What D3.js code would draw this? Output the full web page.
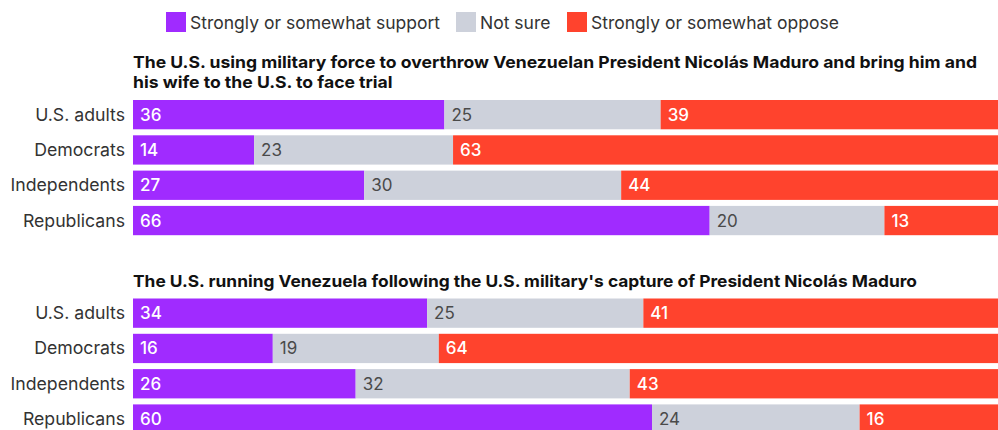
<!DOCTYPE html>
<html>
<head>
<meta charset="utf-8">
<script src="https://cdn.jsdelivr.net/npm/d3@7"></script>
<style>
  html, body { margin: 0; padding: 0; background: #fff; }
  svg { display: block; }
</style>
</head>
<body>
<svg id="chart" width="998" height="430"></svg>
<script>
// ---- data ----
const groups = ["U.S. adults", "Democrats", "Independents", "Republicans"];
const seriesNames = ["Strongly or somewhat support", "Not sure", "Strongly or somewhat oppose"];
const q1Title = ["The U.S. using military force to overthrow Venezuelan President Nicolás Maduro and bring him and",
                 "his wife to the U.S. to face trial"];
const q1Support = [36, 14, 27, 66];
const q1NotSure = [25, 23, 30, 20];
const q1Oppose  = [39, 63, 44, 13];
const q2Title = ["The U.S. running Venezuela following the U.S. military's capture of President Nicolás Maduro"];
const q2Support = [34, 16, 26, 60];
const q2NotSure = [25, 19, 32, 24];
const q2Oppose  = [41, 64, 43, 16];

// ---- styles ----
const colors = ["#a02bff", "#cdd1db", "#ff432d"];
const labelColors = ["#ffffff", "#4a4a4a", "#ffffff"];
const FONT = "Inter, 'Liberation Sans', Arial, sans-serif";

const svg = d3.select("#chart");

// legend
const legendX = [166, 456, 567];
const legend = svg.append("g");
seriesNames.forEach((name, i) => {
  legend.append("rect").attr("x", legendX[i]).attr("y", 12).attr("width", 20).attr("height", 20).attr("fill", colors[i]);
  legend.append("text").attr("x", legendX[i] + 24).attr("y", 28.5)
    .attr("font-family", FONT).attr("font-size", 17.5).attr("fill", "#333")
    .text(name);
});

const xLeft = 133, xRight = 998;

function panel(titleLines, titleY, titleWidth, bandTop, sup, ns, opp) {
  const g = svg.append("g");
  const tl = titleLines.map((t, i) => g.append("text").attr("x", xLeft).attr("y", titleY + i * 20)
      .attr("font-family", FONT).attr("font-weight", 700).attr("font-size", 16.5)
      .attr("fill", "#111").text(t));
  const scale = titleWidth / tl[0].node().getComputedTextLength();
  tl.forEach(t => t.attr("textLength", t.node().getComputedTextLength() * scale).attr("lengthAdjust", "spacingAndGlyphs"));

  const y = d3.scaleBand().domain(groups).range([bandTop, bandTop + 135.2]).paddingInner(0.17).paddingOuter(0);
  const rows = groups.map((grp, i) => ({ grp, vals: [sup[i], ns[i], opp[i]] }));
  rows.forEach(r => {
    const total = d3.sum(r.vals);
    const x = d3.scaleLinear().domain([0, total]).range([xLeft, xRight]);
    let cum = 0;
    const segs = r.vals.map((v, k) => { const s = { k, v, x0: cum, x1: cum + v }; cum += v; return s; });
    const rg = g.append("g");
    rg.selectAll("rect").data(segs).join("rect")
      .attr("x", d => x(d.x0)).attr("width", d => x(d.x1) - x(d.x0))
      .attr("y", y(r.grp)).attr("height", y.bandwidth())
      .attr("fill", d => colors[d.k]);
    rg.selectAll("text.val").data(segs).join("text").attr("class", "val")
      .attr("x", d => x(d.x0) + 7).attr("y", y(r.grp) + y.bandwidth() / 2 + 6)
      .attr("font-family", FONT).attr("font-size", 17)
      .attr("font-weight", d => d.k === 1 ? 400 : 500)
      .attr("fill", d => labelColors[d.k]).text(d => d.v);
    g.append("text").attr("x", 125).attr("y", y(r.grp) + y.bandwidth() / 2 + 6)
      .attr("text-anchor", "end").attr("font-family", FONT).attr("font-size", 17.7)
      .attr("fill", "#333").text(r.grp);
  });
}

panel(q1Title, 68, 844, 100, q1Support, q1NotSure, q1Oppose);
panel(q2Title, 287, 784, 298.5, q2Support, q2NotSure, q2Oppose);
</script>
</body>
</html>
